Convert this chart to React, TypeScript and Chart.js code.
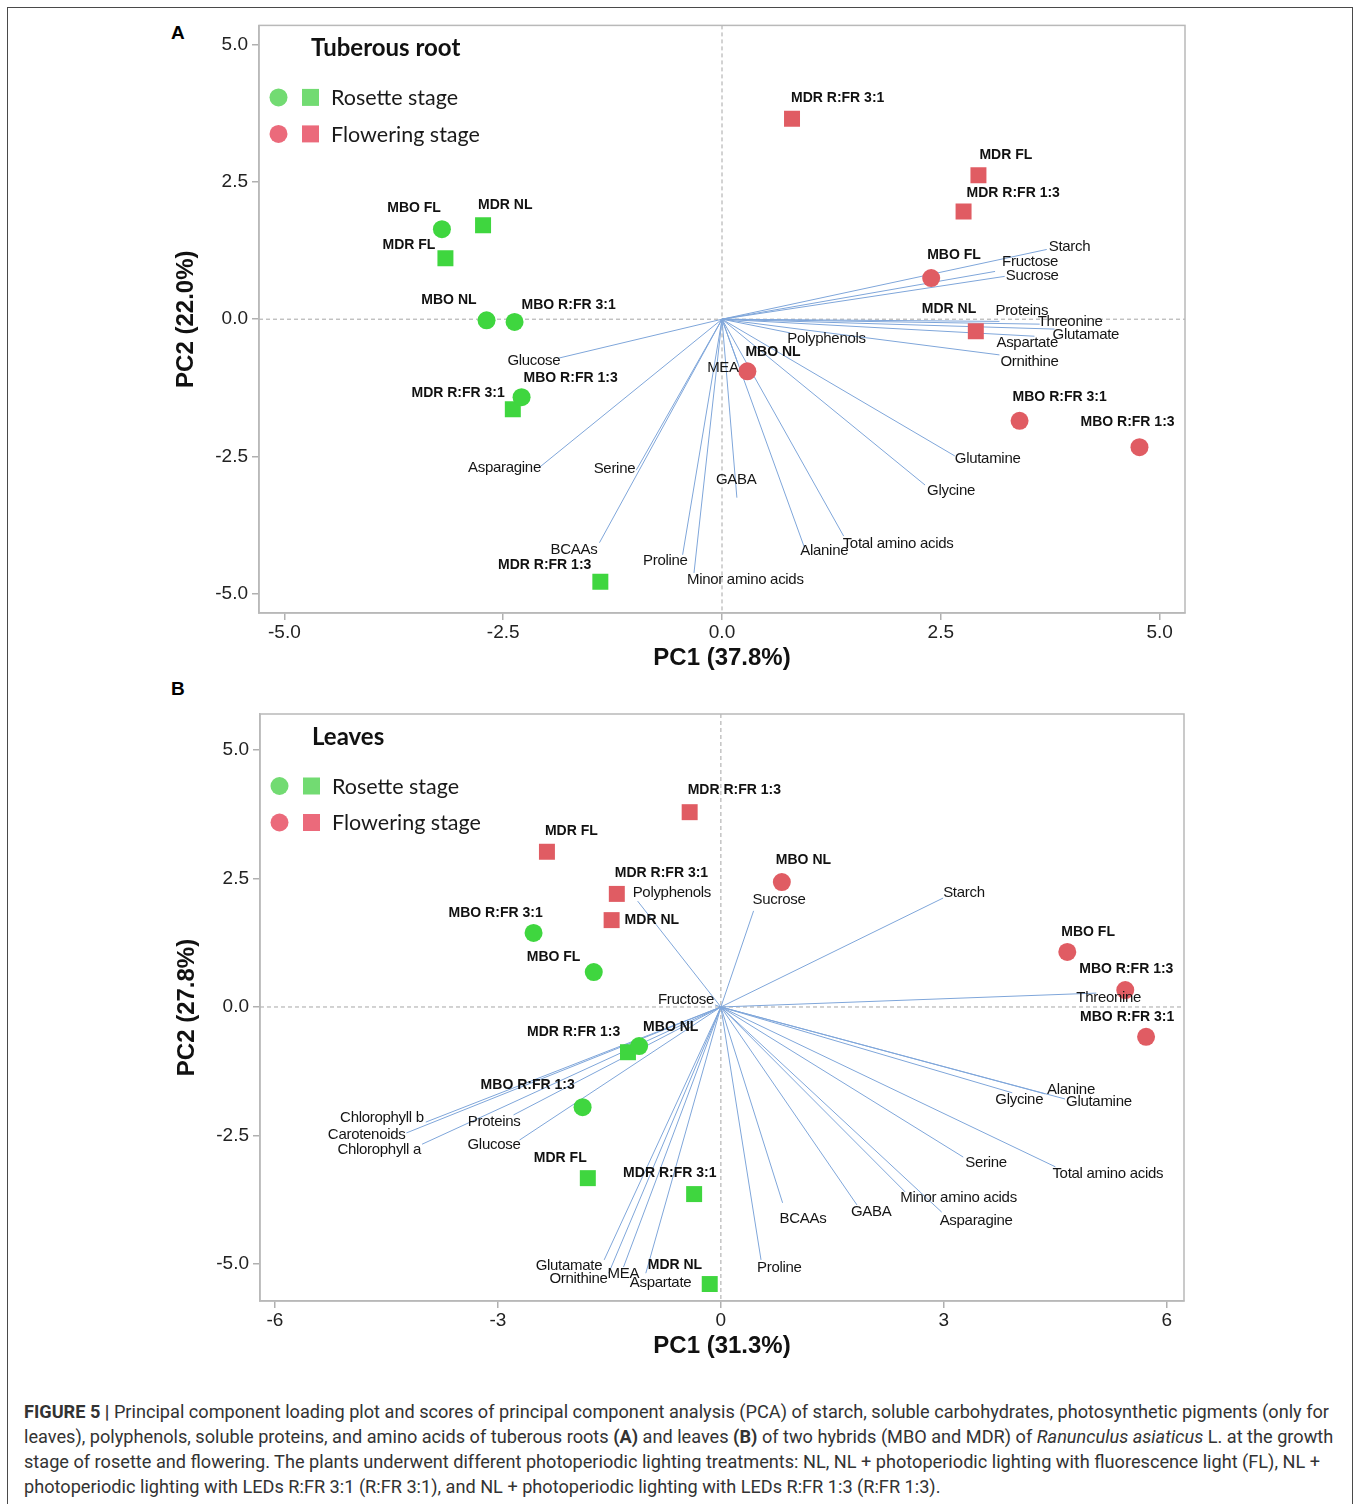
import React, { useEffect, useRef } from "react";
import { Chart, registerables } from "chart.js";

Chart.register(...registerables);

// ---------------- DATA ----------------
const treatments = ["MBO NL", "MBO FL", "MBO R:FR 3:1", "MBO R:FR 1:3", "MDR NL", "MDR FL", "MDR R:FR 3:1", "MDR R:FR 1:3"];
const legendLabels = ["Rosette stage", "Flowering stage"];

// Panel A - Tuberous root (scores)
const rootRosettePC1 = [-2.69, -3.2, -2.37, -2.29, -2.73, -3.16, -2.39, -1.39];
const rootRosettePC2 = [-0.02, 1.64, -0.05, -1.42, 1.71, 1.11, -1.64, -4.78];
const rootFloweringPC1 = [0.29, 2.39, 3.4, 4.77, 2.9, 2.93, 0.8, 2.76];
const rootFloweringPC2 = [-0.95, 0.75, -1.85, -2.33, -0.22, 2.62, 3.65, 1.96];

// Panel A - loadings
const rootVariables = ["Starch", "Fructose", "Sucrose", "Proteins", "Threonine", "Glutamate", "Aspartate", "Ornithine", "Polyphenols", "MEA", "Glutamine", "Glycine", "Total amino acids", "Alanine", "GABA", "Minor amino acids", "Proline", "BCAAs", "Serine", "Asparagine", "Glucose"];
const rootLoadPC1 = [3.71, 3.12, 3.23, 3.17, 3.63, 3.8, 3.57, 3.17, 0.78, 0.18, 2.66, 2.32, 1.39, 0.94, 0.17, -0.32, -0.45, -1.4, -0.98, -2.08, -1.87];
const rootLoadPC2 = [1.27, 0.87, 0.78, -0.04, -0.09, -0.18, -0.31, -0.65, -0.25, -0.8, -2.49, -3.02, -3.95, -4.15, -3.25, -4.62, -4.29, -4.07, -2.75, -2.69, -0.71];

// Panel B - Leaves (scores)
const leafRosettePC1 = [-1.1, -1.71, -2.52, -1.86, -0.15, -1.79, -0.36, -1.25];
const leafRosettePC2 = [-0.76, 0.68, 1.44, -1.95, -5.39, -3.33, -3.64, -0.88];
const leafFloweringPC1 = [0.82, 4.66, 5.72, 5.44, -1.47, -2.34, -1.4, -0.42];
const leafFloweringPC2 = [2.43, 1.07, -0.58, 0.33, 1.69, 3.02, 2.2, 3.79];

// Panel B - loadings
const leafVariables = ["Polyphenols", "Fructose", "Sucrose", "Starch", "Threonine", "Glycine", "Alanine", "Glutamine", "Serine", "Total amino acids", "Minor amino acids", "Asparagine", "GABA", "BCAAs", "Proline", "Chlorophyll b", "Carotenoids", "Chlorophyll a", "Proteins", "Glucose", "Glutamate", "Ornithine", "MEA", "Aspartate"];
const leafLoadPC1 = [-1.12, -0.08, 0.44, 2.99, 5.05, 3.92, 4.36, 4.63, 3.26, 4.5, 2.48, 2.97, 1.83, 0.83, 0.54, -3.97, -4.23, -4.02, -2.79, -2.71, -1.57, -1.51, -1.31, -1.01];
const leafLoadPC2 = [2.06, 0.04, 1.87, 2.12, 0.27, -1.67, -1.69, -1.79, -2.92, -3.11, -3.6, -3.99, -3.85, -3.81, -4.92, -2.24, -2.45, -2.67, -2.1, -2.59, -4.92, -5.18, -5.06, -5.18];

// Ticks
const rootXTicks = [-5, -2.5, 0, 2.5, 5];
const rootXTickLabels = ["-5.0", "-2.5", "0.0", "2.5", "5.0"];
const rootYTicks = [-5, -2.5, 0, 2.5, 5];
const rootYTickLabels = ["-5.0", "-2.5", "0.0", "2.5", "5.0"];
const leafXTicks = [-6, -3, 0, 3, 6];
const leafXTickLabels = ["-6", "-3", "0", "3", "6"];
const leafYTicks = [-5, -2.5, 0, 2.5, 5];
const leafYTickLabels = ["-5.0", "-2.5", "0.0", "2.5", "5.0"];

// ---------------- LABEL LAYOUT (pixel offsets from the mark, alignment) ----------------
type Off = [number, number, "l" | "r"];
const rootRosetteLabelOff: Off[] = [[-10, -20, "r"], [-1, -21, "r"], [7, -17, "l"], [2, -19, "l"], [-5, -20, "l"], [-10, -13, "r"], [-8, -16, "r"], [-9, -17, "r"]];
const rootFloweringLabelOff: Off[] = [[-2, -19, "l"], [-4, -23, "l"], [-7, -24, "l"], [-59, -25, "l"], [-54, -22, "l"], [1, -20, "l"], [-1, -21, "l"], [3, -18, "l"]];
const leafRosetteLabelOff: Off[] = [[4, -19, "l"], [-67, -15, "l"], [-85, -20, "l"], [-102, -22, "l"], [-62, -19, "l"], [-54, -20, "l"], [-71, -21, "l"], [-101, -20, "l"]];
const leafFloweringLabelOff: Off[] = [[-6, -22, "l"], [-6, -20, "l"], [-66, -20, "l"], [-46, -21, "l"], [13, 0, "l"], [-2, -21, "l"], [-2, -21, "l"], [-2, -22, "l"]];
const rootLoadLabelOff: Off[] = [[2, -3, "l"], [7, -10, "l"], [1, -1, "l"], [-4, -11, "l"], [-2, -2, "l"], [-2, 6, "l"], [-38, 7, "l"], [1, 7, "l"], [-3, 6, "l"], [1, 5, "r"], [0, 3, "l"], [2, 6, "l"], [-1, 8, "l"], [-4, 4, "l"], [-21, -18, "l"], [-7, 7, "l"], [5, 6, "r"], [-2, 7, "r"], [-1, -1, "r"], [1, 1, "r"], [2, 3, "r"]];
const leafLoadLabelOff: Off[] = [[-5, -8, "l"], [-1, -5, "r"], [-1, -11, "l"], [0, -5, "l"], [-20, 5, "l"], [-17, 7, "l"], [2, -4, "l"], [1, 3, "l"], [2, 6, "l"], [-3, 7, "l"], [-5, 6, "l"], [-2, 9, "l"], [-6, 7, "l"], [-3, 16, "l"], [-4, 8, "l"], [-2, -4, "r"], [-1, 2, "r"], [-1, 6, "r"], [7, 7, "r"], [1, 5, "r"], [-2, 6, "r"], [-1, 6, "r"], [-16, 7, "l"], [-16, 10, "l"]];

// ---------------- STYLE ----------------
const GREEN = "#3fd63f";
const RED = "#e05c63";
const LEG_GREEN = "#72db72";
const LEG_RED = "#eb6a7b";
const LOAD_COLOR = "#7fa6da";
const SANS = '"Liberation Sans", Arial, sans-serif';
const TITLE_FONT = 'Lato, "Open Sans", sans-serif';

type PanelCfg = {
  title: string;
  xTitle: string;
  yTitle: string;
  xMin: number; xMax: number; yMin: number; yMax: number;
  xTicks: number[]; xTickLabels: string[]; yTicks: number[]; yTickLabels: string[];
  rosPC1: number[]; rosPC2: number[]; flwPC1: number[]; flwPC2: number[];
  rosOff: Off[]; flwOff: Off[];
  vars: string[]; loadPC1: number[]; loadPC2: number[]; loadOff: Off[];
  yAxisW: number; xAxisH: number; padTop: number; padRight: number;
};

function makePlugin(cfg: PanelCfg) {
  return {
    id: "biplot",
    beforeDatasetsDraw(chart: any) {
      const { ctx, chartArea: a, scales } = chart;
      const x0 = scales.x.getPixelForValue(0);
      const y0 = scales.y.getPixelForValue(0);
      ctx.save();
      ctx.strokeStyle = "#a6a6a6";
      ctx.lineWidth = 1;
      ctx.setLineDash([4, 3]);
      ctx.beginPath();
      ctx.moveTo(x0, a.top); ctx.lineTo(x0, a.bottom);
      ctx.moveTo(a.left, y0); ctx.lineTo(a.right, y0);
      ctx.stroke();
      ctx.restore();
    },
    afterDatasetsDraw(chart: any) {
      const { ctx, scales } = chart;
      const put = (text: string, px: number, py: number, off: Off) => {
        ctx.textAlign = off[2] === "r" ? "right" : "left";
        ctx.fillText(text, px + off[0], py + off[1]);
      };
      ctx.save();
      ctx.textBaseline = "middle";
      ctx.fillStyle = "#151515";
      ctx.font = `15px ${SANS}`;
      try { (ctx as any).letterSpacing = "-0.3px"; } catch (e) {}
      cfg.vars.forEach((v, i) => {
        put(v, scales.x.getPixelForValue(cfg.loadPC1[i]), scales.y.getPixelForValue(cfg.loadPC2[i]), cfg.loadOff[i]);
      });
      try { (ctx as any).letterSpacing = "0px"; } catch (e) {}
      ctx.font = `bold 14px ${SANS}`;
      ctx.fillStyle = "#111";
      treatments.forEach((t, i) => {
        put(t, scales.x.getPixelForValue(cfg.rosPC1[i]), scales.y.getPixelForValue(cfg.rosPC2[i]), cfg.rosOff[i]);
        put(t, scales.x.getPixelForValue(cfg.flwPC1[i]), scales.y.getPixelForValue(cfg.flwPC2[i]), cfg.flwOff[i]);
      });
      ctx.restore();
    },
    afterDraw(chart: any) {
      const { ctx, chartArea: a } = chart;
      ctx.save();
      // frame
      ctx.strokeStyle = "#b9b9b9";
      ctx.lineWidth = 1.5;
      ctx.strokeRect(a.left, a.top, a.right - a.left, a.bottom - a.top);
      // title
      ctx.fillStyle = "#111";
      ctx.textBaseline = "middle";
      ctx.textAlign = "left";
      ctx.font = `bold 24px ${TITLE_FONT}`;
      ctx.fillText(cfg.title, a.left + 52, a.top + 23);
      // legend
      const rows = [[LEG_GREEN, legendLabels[0]], [LEG_RED, legendLabels[1]]];
      rows.forEach((r, k) => {
        const cy = a.top + 72 + k * 36.5;
        ctx.fillStyle = r[0];
        ctx.beginPath();
        ctx.arc(a.left + 19.5, cy, 9, 0, Math.PI * 2);
        ctx.fill();
        ctx.fillRect(a.left + 43, cy - 8.5, 17, 17);
        ctx.fillStyle = "#1a1a1a";
        ctx.font = `21.5px ${TITLE_FONT}`;
        ctx.fillText(r[1], a.left + 72, cy + 1);
      });
      // axis titles
      ctx.fillStyle = "#111";
      ctx.font = `bold 24px ${SANS}`;
      ctx.textAlign = "center";
      ctx.fillText(cfg.xTitle, (a.left + a.right) / 2, a.bottom + 45);
      ctx.translate(a.left - 73, (a.top + a.bottom) / 2);
      ctx.rotate(-Math.PI / 2);
      ctx.fillText(cfg.yTitle, 0, 0);
      ctx.restore();
    },
  };
}

function buildConfig(cfg: PanelCfg): any {
  const datasets: any[] = [];
  const stages = [
    { pc1: cfg.rosPC1, pc2: cfg.rosPC2, color: GREEN, name: legendLabels[0] },
    { pc1: cfg.flwPC1, pc2: cfg.flwPC2, color: RED, name: legendLabels[1] },
  ];
  stages.forEach((s) => {
    ["MBO", "MDR"].forEach((hyb) => {
      const pts: any[] = [];
      treatments.forEach((t, i) => {
        if (t.startsWith(hyb)) pts.push({ x: s.pc1[i], y: s.pc2[i] });
      });
      datasets.push({
        label: `${s.name} ${hyb}`,
        data: pts,
        pointStyle: hyb === "MBO" ? "circle" : "rect",
        pointRadius: hyb === "MBO" ? 9 : 11.3,
        pointBackgroundColor: s.color,
        pointBorderWidth: 0,
        showLine: false,
        order: 0,
      });
    });
  });
  cfg.vars.forEach((v, i) => {
    datasets.push({
      label: v,
      data: [{ x: 0, y: 0 }, { x: cfg.loadPC1[i], y: cfg.loadPC2[i] }],
      showLine: true,
      borderColor: LOAD_COLOR,
      borderWidth: 1,
      pointRadius: 0,
      pointHoverRadius: 0,
      order: 5,
    });
  });
  const tickFont = { family: SANS, size: 19 };
  return {
    type: "scatter",
    data: { datasets },
    plugins: [makePlugin(cfg)],
    options: {
      animation: false,
      responsive: false,
      events: [],
      layout: { padding: { top: cfg.padTop, right: cfg.padRight, left: 0, bottom: 0 } },
      plugins: { legend: { display: false }, tooltip: { enabled: false }, title: { display: false } },
      scales: {
        x: {
          type: "linear",
          min: cfg.xMin,
          max: cfg.xMax,
          afterFit: (s: any) => { s.height = cfg.xAxisH; },
          afterBuildTicks: (s: any) => { s.ticks = cfg.xTicks.map((v) => ({ value: v })); },
          ticks: {
            callback: (_v: any, idx: number) => cfg.xTickLabels[idx],
            font: tickFont,
            color: "#222",
            padding: 1,
            maxRotation: 0,
            autoSkip: false,
          },
          grid: { drawOnChartArea: false, drawTicks: true, tickLength: 7, color: "#b0b0b0", lineWidth: 1.5 },
          border: { display: true, color: "#b9b9b9", width: 1.5 },
        },
        y: {
          type: "linear",
          min: cfg.yMin,
          max: cfg.yMax,
          afterFit: (s: any) => { s.width = cfg.yAxisW; },
          afterBuildTicks: (s: any) => { s.ticks = cfg.yTicks.map((v) => ({ value: v })); },
          ticks: {
            callback: (_v: any, idx: number) => cfg.yTickLabels[idx],
            font: tickFont,
            color: "#222",
            padding: 4,
            autoSkip: false,
          },
          grid: { drawOnChartArea: false, drawTicks: true, tickLength: 7, color: "#b0b0b0", lineWidth: 1.5 },
          border: { display: true, color: "#b9b9b9", width: 1.5 },
        },
      },
    },
  };
}

const panelA: PanelCfg = {
  title: "Tuberous root",
  xTitle: "PC1 (37.8%)",
  yTitle: "PC2 (22.0%)",
  xMin: -5.29, xMax: 5.29, yMin: -5.35, yMax: 5.35,
  xTicks: rootXTicks, xTickLabels: rootXTickLabels, yTicks: rootYTicks, yTickLabels: rootYTickLabels,
  rosPC1: rootRosettePC1, rosPC2: rootRosettePC2, flwPC1: rootFloweringPC1, flwPC2: rootFloweringPC2,
  rosOff: rootRosetteLabelOff, flwOff: rootFloweringLabelOff,
  vars: rootVariables, loadPC1: rootLoadPC1, loadPC2: rootLoadPC2, loadOff: rootLoadLabelOff,
  yAxisW: 109, xAxisH: 67, padTop: 15, padRight: 25,
};

const panelB: PanelCfg = {
  title: "Leaves",
  xTitle: "PC1 (31.3%)",
  yTitle: "PC2 (27.8%)",
  xMin: -6.2, xMax: 6.23, yMin: -5.72, yMax: 5.7,
  xTicks: leafXTicks, xTickLabels: leafXTickLabels, yTicks: leafYTicks, yTickLabels: leafYTickLabels,
  rosPC1: leafRosettePC1, rosPC2: leafRosettePC2, flwPC1: leafFloweringPC1, flwPC2: leafFloweringPC2,
  rosOff: leafRosetteLabelOff, flwOff: leafFloweringLabelOff,
  vars: leafVariables, loadPC1: leafLoadPC1, loadPC2: leafLoadPC2, loadOff: leafLoadLabelOff,
  yAxisW: 110, xAxisH: 79, padTop: 34, padRight: 26,
};

function Panel(props: { cfg: PanelCfg; left: number; top: number; width: number; height: number }) {
  const ref = useRef<HTMLCanvasElement | null>(null);
  useEffect(() => {
    if (!ref.current) return;
    const chart = new Chart(ref.current, buildConfig(props.cfg));
    return () => chart.destroy();
  }, []);
  return (
    <canvas
      ref={ref}
      width={props.width}
      height={props.height}
      style={{ position: "absolute", left: props.left, top: props.top, width: props.width, height: props.height }}
    />
  );
}

const capStyle: React.CSSProperties = {
  position: "absolute",
  left: 24,
  whiteSpace: "nowrap",
  fontFamily: 'Roboto, "Liberation Sans", sans-serif',
  fontSize: 18.15,
  lineHeight: "22px",
  color: "#333",
};

export default function App() {
  useEffect(() => {
    document.body.style.margin = "0";
  }, []);
  return (
    <div style={{ position: "relative", width: 1359, height: 1504, background: "#fff", overflow: "hidden" }}>
      <div
        style={{
          position: "absolute", left: 7, top: 7, width: 1346, height: 1510,
          borderTop: "1.5px solid #4a4a4a", borderLeft: "1.5px solid #4a4a4a", borderRight: "1.5px solid #4a4a4a",
          boxSizing: "border-box",
        }}
      />
      <div style={{ position: "absolute", left: 171, top: 22, fontFamily: SANS, fontWeight: "bold", fontSize: 19 }}>A</div>
      <div style={{ position: "absolute", left: 171, top: 678, fontFamily: SANS, fontWeight: "bold", fontSize: 19 }}>B</div>
      <Panel cfg={panelA} left={150} top={10} width={1060} height={670} />
      <Panel cfg={panelB} left={150} top={680} width={1060} height={700} />
      <div style={{ ...capStyle, top: 1401 }}>
        <b>FIGURE 5 |</b> Principal component loading plot and scores of principal component analysis (PCA) of starch, soluble carbohydrates, photosynthetic pigments (only for
      </div>
      <div style={{ ...capStyle, top: 1426 }}>
        leaves), polyphenols, soluble proteins, and amino acids of tuberous roots <b>(A)</b> and leaves <b>(B)</b> of two hybrids (MBO and MDR) of <i>Ranunculus asiaticus</i> L. at the growth
      </div>
      <div style={{ ...capStyle, top: 1451 }}>
        stage of rosette and flowering. The plants underwent different photoperiodic lighting treatments: NL, NL + photoperiodic lighting with fluorescence light (FL), NL +
      </div>
      <div style={{ ...capStyle, top: 1476 }}>
        photoperiodic lighting with LEDs R:FR 3:1 (R:FR 3:1), and NL + photoperiodic lighting with LEDs R:FR 1:3 (R:FR 1:3).
      </div>
    </div>
  );
}
